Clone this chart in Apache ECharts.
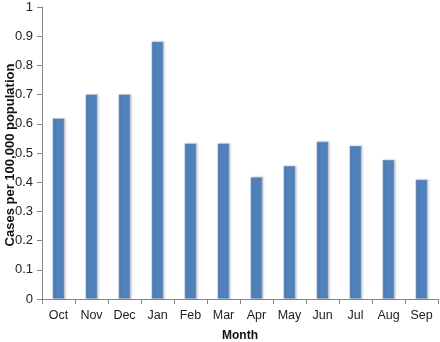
<!DOCTYPE html>
<html><head><meta charset="utf-8">
<script src="https://cdn.jsdelivr.net/npm/echarts@6/dist/echarts.min.js"></script>
<style>html,body{margin:0;padding:0;background:#fff}#c{width:440px;height:342px}</style>
</head><body><div id="c"></div>
<script>
const months = ['Oct','Nov','Dec','Jan','Feb','Mar','Apr','May','Jun','Jul','Aug','Sep'];
const cases = [0.619,0.701,0.701,0.882,0.533,0.533,0.418,0.456,0.539,0.525,0.477,0.409];
const yTitle = 'Cases per 100,000 population';
const xTitle = 'Month';
const chart = echarts.init(document.getElementById('c'));
const font = 'Liberation Sans';
chart.setOption({
  animation:false,
  grid:{left:42,right:2,top:7,bottom:43,containLabel:false,outerBoundsMode:'none'},
  graphic:[
    {type:'text',x:10,y:155,rotation:Math.PI/2,silent:true,
      style:{text:yTitle,font:'bold 13px "Liberation Sans"',fill:'#111',align:'center',verticalAlign:'middle'}},
    {type:'text',x:240,y:336,silent:true,
      style:{text:xTitle,font:'bold 12px "Liberation Sans"',fill:'#111',align:'center',verticalAlign:'middle'}}
  ],
  xAxis:{type:'category',data:months,
    axisLine:{lineStyle:{color:'#868686'}},
    axisTick:{show:true,length:5,lineStyle:{color:'#868686'}},
    axisLabel:{color:'#222',fontFamily:font,fontSize:12.5,margin:10,interval:0,hideOverlap:false}},
  yAxis:{type:'value',min:0,max:1,interval:0.1,
    axisLine:{show:true,lineStyle:{color:'#868686'}},
    axisTick:{show:true,length:5,lineStyle:{color:'#868686'}},
    splitLine:{show:false},
    axisLabel:{color:'#222',fontFamily:font,fontSize:13,margin:9}},
  series:[{type:'bar',data:cases,barWidth:12,
    itemStyle:{color:'#4F81BD',borderColor:'#e0e0e0',borderWidth:0.5,shadowColor:'rgba(0,0,0,0.25)',shadowBlur:2,shadowOffsetX:1,shadowOffsetY:0}}]
});
</script></body></html>
